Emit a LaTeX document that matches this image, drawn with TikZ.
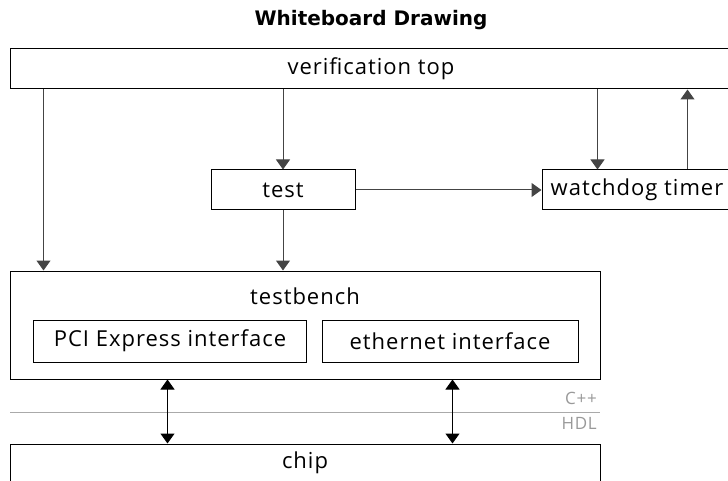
\documentclass[tikz,border=0pt]{standalone}
\usepackage{fontspec}
\setmainfont{Open Sans}[LetterSpace=4.5]
\newfontfamily\titlefont{DejaVu Sans}
\usetikzlibrary{arrows.meta,calc}
\definecolor{linegray}{HTML}{444444}
\definecolor{sepgray}{HTML}{AAAAAA}
\definecolor{langgray}{HTML}{999999}
\tikzset{
  box/.style={draw=black, line width=1pt, rectangle, inner sep=0pt, font=\fontsize{22}{26}\selectfont},
  txt/.style={inner sep=0pt, font=\fontsize{22}{26}\selectfont},
  tip/.tip={Triangle[width=14pt,length=10pt]},
  arr/.style={draw=linegray, line width=1pt, -tip},
  darr/.style={draw=black, line width=1pt, tip-tip},
  lang/.style={inner sep=0pt, anchor=east, text=langgray, font=\fontsize{17}{19}\selectfont},
}
\begin{document}
\begin{tikzpicture}[x=1pt,y=-1pt]
\useasboundingbox (0,0) rectangle (728,481);
\begin{scope}
\clip (0,0) rectangle (728,481);
\node[inner sep=0pt, font=\titlefont\bfseries\fontsize{20}{24}\selectfont] (title) at (371,20) {Whiteboard Drawing};
\node[box, minimum width=722pt, minimum height=40pt] (vtop) at (371,69) {verification top};
\node[box, minimum width=144pt, minimum height=40pt] (test) at (283,190) {test};
\node[box, minimum width=190pt, minimum height=40pt] (wd) at (637,190) {watchdog timer};
\node[box, minimum width=590pt, minimum height=108pt] (tb) at (305,325) {};
\node[txt] (tbl) at (305,296) {testbench};
\node[box, minimum width=273pt, minimum height=42pt] (pci) at (170,341) {PCI Express interface};
\node[box, minimum width=256pt, minimum height=42pt] (eth) at (450,341) {ethernet interface};
\node[box, minimum width=590pt, minimum height=38pt] (chip) at (305,463) {chip};
\coordinate (sepl) at (10,412);
\coordinate (sepr) at (600,412);
\draw[sepgray, line width=1pt] (sepl) -- (sepr);
\node[lang] (cpp) at (597,398) {C++};
\node[lang] (hdl) at (597,423) {HDL};
% connectors
\coordinate (wdin) at ([xshift=56pt]wd.north west);
\coordinate (wdout) at ([xshift=146pt]wd.north west);
\coordinate (pcix) at ([xshift=158pt]tb.south west);
\coordinate (ethx) at ([xshift=443pt]tb.south west);
\draw[arr] ([xshift=34pt]vtop.south west) -- ([xshift=34pt]tb.north west);
\draw[arr] (vtop.south -| test.north) -- (test.north);
\draw[arr] (vtop.south -| wdin) -- (wdin);
\draw[arr] (wdout) -- (vtop.south -| wdout);
\draw[arr] (test.east) -- (wd.west);
\draw[arr] (test.south) -- (tb.north -| test.south);
\draw[darr] (pcix) -- (chip.north -| pcix);
\draw[darr] (ethx) -- (chip.north -| ethx);
\end{scope}
\end{tikzpicture}
\end{document}
